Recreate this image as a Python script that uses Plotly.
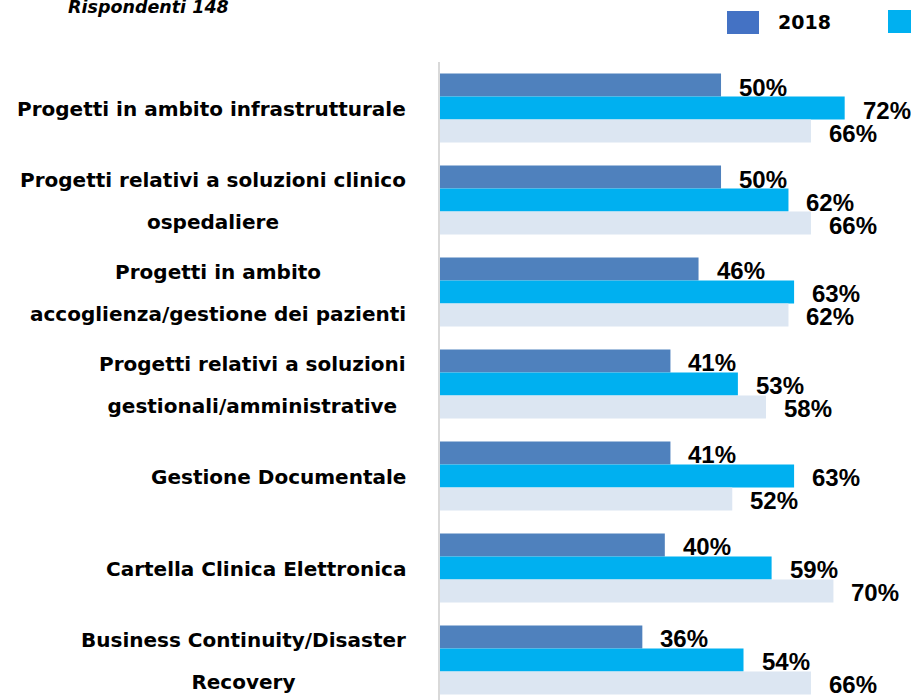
import plotly.graph_objects as go

categories = [
    "Progetti in ambito infrastrutturale",
    "Progetti relativi a soluzioni clinico<br>ospedaliere",
    "Progetti in ambito<br>accoglienza/gestione dei pazienti",
    "Progetti relativi a soluzioni<br>gestionali/amministrative",
    "Gestione Documentale",
    "Cartella Clinica Elettronica",
    "Business Continuity/Disaster<br>Recovery",
]
series_names = ["2018", "2019", "2017"]
values_2018 = [50, 50, 46, 41, 41, 40, 36]
values_2019 = [72, 62, 63, 53, 63, 59, 54]
values_2017 = [66, 66, 62, 58, 52, 70, 66]
colors = ["#4F81BD", "#00B0F0", "#DCE6F2"]

LABEL_FONT = "DejaVu Sans"
all_values = [values_2018, values_2019, values_2017]

fig = go.Figure()
for name, vals, col in zip(series_names, all_values, colors):
    fig.add_trace(go.Bar(
        y=categories, x=vals, name=name, orientation="h",
        marker=dict(color=col, line=dict(width=0)),
        cliponaxis=False,
    ))

# value labels right of each bar
annotations = []
for i, vals in enumerate(all_values):
    for cat, v in zip(categories, vals):
        annotations.append(dict(
            x=v, y=cat, xref="x", yref="y", text=f"{v}%",
            showarrow=False, xanchor="left", xshift=16, yshift=-(i - 1) * 23 - 2,
            font=dict(family="Liberation Sans, Arial", size=24, color="#000000", weight="bold"),
        ))

# category labels: block right-aligned, lines centred, wide line spacing
# (line spacing follows the annotation font size, glyphs use the span size)
for cat in categories:
    lines = cat.split("<br>")
    txt = "<br>".join(f"<span style='font-size:20px'>{ln}</span>" for ln in lines)
    annotations.append(dict(
        x=0, y=cat, xref="paper", yref="y", text=txt,
        showarrow=False, xanchor="right", align="center",
        xshift=-32, yshift=-1,
        font=dict(family=LABEL_FONT, size=32, color="#000000", weight="bold"),
    ))

# subtitle at top-left (partly cut)
annotations.append(dict(
    x=(66 - 440) / 471, y=(700 - 7) / 638, xref="paper", yref="paper",
    text="<i>Rispondenti 148</i>", showarrow=False, xanchor="left", yanchor="middle",
    font=dict(family=LABEL_FONT, size=17.5, color="#000000", weight="bold"),
))

# legend drawn by hand (third entry cut off at right edge)
def px_x(p):
    return (p - 440) / 471

def px_y(p):
    return (700 - p) / 638

shapes = [
    dict(type="rect", xref="paper", yref="paper", x0=px_x(727), x1=px_x(759),
         y0=px_y(34), y1=px_y(11), fillcolor="#4472C4", line=dict(width=0)),
    dict(type="rect", xref="paper", yref="paper", x0=px_x(888), x1=px_x(930),
         y0=px_y(33), y1=px_y(10), fillcolor="#00B0F0", line=dict(width=0)),
]
annotations.append(dict(
    x=px_x(776), y=px_y(22), xref="paper", yref="paper", text="2018",
    showarrow=False, xanchor="left", yanchor="middle",
    font=dict(family=LABEL_FONT, size=19, color="#000000", weight="bold"),
))

fig.update_layout(
    width=911, height=700,
    margin=dict(l=440, r=0, t=62, b=0),
    plot_bgcolor="white", paper_bgcolor="white",
    barmode="group", bargap=0.25, bargroupgap=0,
    showlegend=False,
    annotations=annotations, shapes=shapes,
    xaxis=dict(range=[0, 83.8], showticklabels=False, showgrid=False,
               zeroline=False, showline=False),
    yaxis=dict(range=[6.435, -0.5], showticklabels=False, showgrid=False,
               zeroline=False, showline=True, linecolor="#D9D9D9", linewidth=2),
)

fig.write_html("out.html", config={"displayModeBar": False},
               post_script="document.body.style.margin='0';")
